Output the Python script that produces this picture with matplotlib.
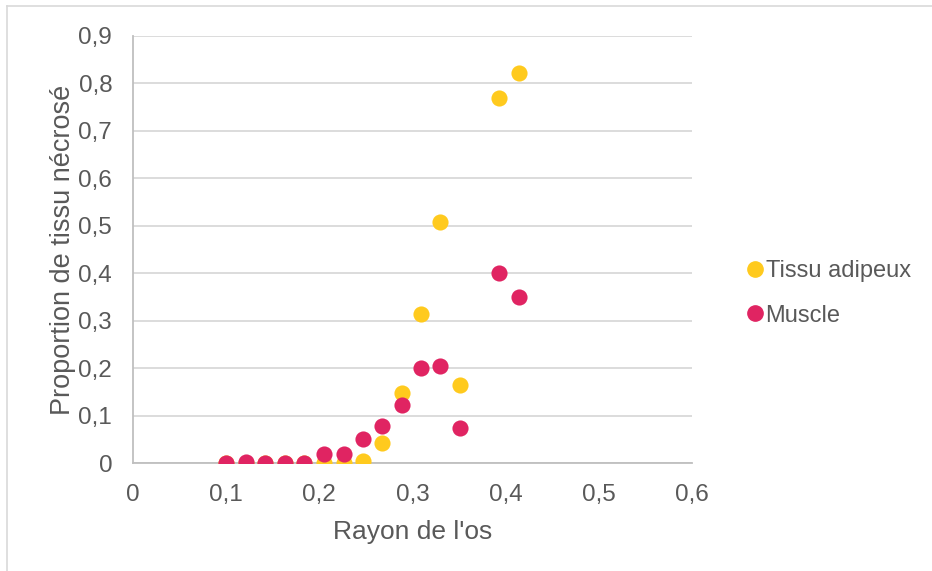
import matplotlib
matplotlib.use("Agg")
import matplotlib.pyplot as plt
from matplotlib.lines import Line2D

plt.rcParams['font.family'] = ['Liberation Sans', 'DejaVu Sans']

# Rayon de l'os et proportion de tissu nécrosé
rayon = [0.100, 0.121, 0.142, 0.163, 0.184, 0.2045, 0.226, 0.2465,
         0.2675, 0.2885, 0.3095, 0.330, 0.3515, 0.3927, 0.414]
tissu_adipeux = [0.0, 0.0, 0.0, 0.0, 0.0, 0.0, 0.0, 0.005,
                 0.042, 0.148, 0.315, 0.507, 0.165, 0.770, 0.822]
muscle = [0.0, 0.002, 0.001, 0.0, 0.0, 0.018, 0.020, 0.050,
          0.078, 0.122, 0.201, 0.204, 0.074, 0.400, 0.349]

x_ticks = [0, 0.1, 0.2, 0.3, 0.4, 0.5, 0.6]
y_ticks = [0, 0.1, 0.2, 0.3, 0.4, 0.5, 0.6, 0.7, 0.8, 0.9]

YELLOW = "#FFCA1E"
RED = "#E02462"
TEXT = "#595959"
GRID = "#D9D9D9"

fig = plt.figure(figsize=(9.32, 5.71), dpi=100)
ax = fig.add_axes([0.1427, 0.1891, 0.5998, 0.7479])

ax.scatter(rayon, tissu_adipeux, s=135, color=YELLOW, linewidths=0, zorder=3)
ax.scatter(rayon, muscle, s=135, color=RED, linewidths=0, zorder=4)

ax.set_xlim(0, 0.6)
ax.set_ylim(0, 0.9)
ax.set_xticks(x_ticks)
ax.set_yticks(y_ticks)
fmt = lambda v: "0" if v == 0 else f"{v:.1f}".replace(".", ",")
ax.set_xticklabels([fmt(v) for v in x_ticks])
ax.set_yticklabels([fmt(v) for v in y_ticks])
ax.tick_params(length=0, labelsize=17.5, labelcolor=TEXT)
ax.tick_params(axis="x", pad=15)
ax.tick_params(axis="y", pad=15)

ax.grid(axis="y", color=GRID, linewidth=1.3, zorder=0)
ax.set_axisbelow(True)
for side in ["top", "right"]:
    ax.spines[side].set_visible(False)
for side in ["left", "bottom"]:
    ax.spines[side].set_color("#BFBFBF")
    ax.spines[side].set_linewidth(1.3)

ax.set_xlabel("Rayon de l'os", fontsize=19, color=TEXT, labelpad=10)
ax.set_ylabel("Proportion de tissu nécrosé", fontsize=19.5, color=TEXT, labelpad=2)

handles = [
    Line2D([], [], marker="o", linestyle="", markersize=11, color=YELLOW, label="Tissu adipeux"),
    Line2D([], [], marker="o", linestyle="", markersize=11, color=RED, label="Muscle"),
]
leg = fig.legend(handles=handles, loc="center left", bbox_to_anchor=(0.772, 0.486),
                 frameon=False, fontsize=17, handletextpad=-0.15, labelspacing=0.95,
                 handlelength=1.2)
for t in leg.get_texts():
    t.set_color(TEXT)

# thin outer border on the top and left edges
fig.add_artist(Line2D([0.008, 1.0], [0.989, 0.989], color="#D9D9D9", linewidth=1.2,
                      transform=fig.transFigure))
fig.add_artist(Line2D([0.008, 0.008], [0.0, 0.989], color="#D9D9D9", linewidth=1.2,
                      transform=fig.transFigure))

fig.savefig("out.png", dpi=100)
